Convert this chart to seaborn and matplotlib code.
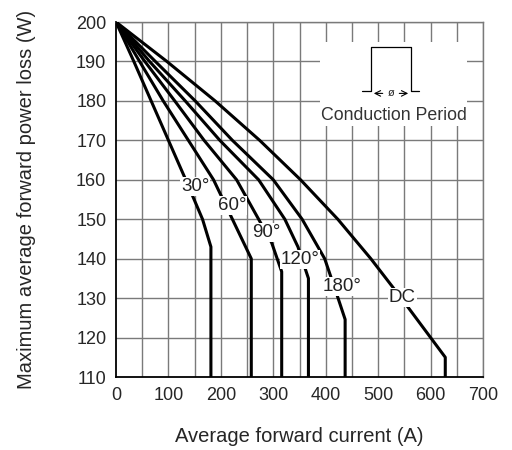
import matplotlib
matplotlib.use("Agg")
import matplotlib.pyplot as plt
import seaborn as sns
import pandas as pd

# curve data: current (A) vs power loss (W)
cur_30 = [0, 34, 67, 100, 133, 165, 181, 181]
pw_30 = [200, 190, 180, 170, 160, 150, 143, 110]
cur_60 = [0, 45, 90, 138, 186, 222, 258, 258]
pw_60 = [200, 190, 180, 170, 160, 150, 140, 110]
cur_90 = [0, 55, 112, 168, 230, 272, 297, 316, 316]
pw_90 = [200, 190, 180, 170, 160, 150, 144, 136.7, 110]
cur_120 = [0, 64, 132, 198, 272, 322, 347, 367, 367]
pw_120 = [200, 190, 180, 170, 160, 150, 143, 135, 110]
cur_180 = [0, 75, 151, 222, 300, 355, 398, 421, 437, 437]
pw_180 = [200, 190, 180, 170, 160, 150, 140, 131, 124.6, 110]
cur_dc = [0, 97, 189, 274, 352, 423, 486, 544, 600, 628, 628]
pw_dc = [200, 190, 180, 170, 160, 150, 140, 130, 120, 115, 110]

curve_names = ["30°", "60°", "90°", "120°", "180°", "DC"]
label_x = [151, 221, 287, 351, 432, 546]
label_y = [158.3, 153.5, 146.6, 139.8, 132.9, 130.1]

x_ticks = [0, 100, 200, 300, 400, 500, 600, 700]
y_ticks = [110, 120, 130, 140, 150, 160, 170, 180, 190, 200]

curves = [(cur_30, pw_30), (cur_60, pw_60), (cur_90, pw_90),
          (cur_120, pw_120), (cur_180, pw_180), (cur_dc, pw_dc)]

sns.set_style("white")
plt.rcParams['font.family'] = ['Liberation Sans', 'DejaVu Sans']

fig = plt.figure(figsize=(5.12, 4.5), dpi=100)
ax = fig.add_axes([0.2266, 0.1622, 0.7168, 0.7889])

# grid every 50 A and 10 W
for gx in range(50, 701, 50):
    ax.axvline(gx, color='#7a7a7a', lw=1.0, zorder=1)
for gy in range(120, 201, 10):
    ax.axhline(gy, color='#7a7a7a', lw=1.0, zorder=1)

for name, (c, p) in zip(curve_names, curves):
    df = pd.DataFrame({'current': c, 'power': p})
    sns.lineplot(data=df, x='current', y='power', sort=False, estimator=None,
                 errorbar=None, color='black', lw=2.2, ax=ax, zorder=3)

for name, lx, ly in zip(curve_names, label_x, label_y):
    ax.text(lx, ly, name, fontsize=13.5, ha='center', va='center', color='#222222',
            zorder=5, bbox=dict(facecolor='white', edgecolor='none', pad=0.5))

# inset: conduction period sketch
ax.add_patch(plt.Rectangle((389, 173.7), 281, 21.3, facecolor='white',
                           edgecolor='none', zorder=2))
ax.plot([468.6, 486.4, 486.4, 562.6, 562.6, 577.9],
        [182.4, 182.4, 193.6, 193.6, 182.4, 182.4], color='black', lw=0.9, zorder=4)
ax.annotate('', xy=(486.4, 181.9), xytext=(514, 181.9),
            arrowprops=dict(arrowstyle='->', lw=0.8, color='black'), zorder=4)
ax.annotate('', xy=(562.6, 181.9), xytext=(535, 181.9),
            arrowprops=dict(arrowstyle='->', lw=0.8, color='black'), zorder=4)
ax.text(524.5, 181.9, 'ø', fontsize=8, ha='center', va='center', zorder=4)
ax.text(530, 176.3, 'Conduction Period', fontsize=12.8, ha='center', va='center',
        color='#333333', zorder=4)

ax.set_xlim(0, 700)
ax.set_ylim(110, 200)
ax.set_xticks(x_ticks)
ax.set_yticks(y_ticks)
ax.tick_params(length=0, labelsize=13, pad=7)
for s in ['top', 'right']:
    ax.spines[s].set_color('#7a7a7a')
    ax.spines[s].set_linewidth(1.0)
for s in ['left', 'bottom']:
    ax.spines[s].set_color('black')
    ax.spines[s].set_linewidth(1.3)

ax.set_xlabel('Average forward current (A)', fontsize=14.5, labelpad=17)
ax.set_ylabel('Maximum average forward power loss (W)', fontsize=14.5, labelpad=29)

fig.savefig('out.png', dpi=100)
